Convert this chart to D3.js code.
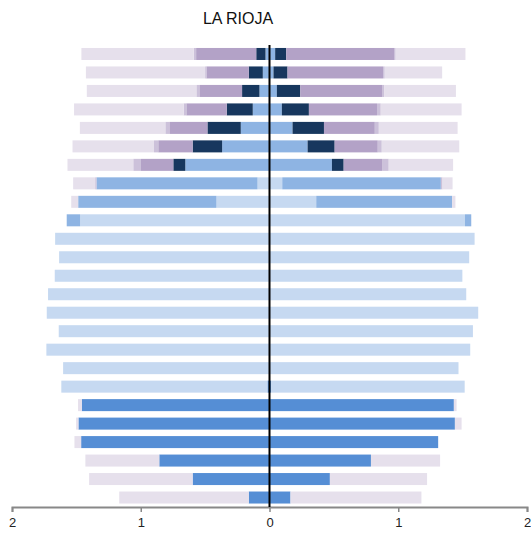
<!DOCTYPE html>
<html>
<head>
<meta charset="utf-8">
<script src="https://cdn.jsdelivr.net/npm/d3@7"></script>
<style>
  body { margin: 0; background: #fff; }
  svg { display: block; font-family: "Liberation Sans", Arial, sans-serif; }
</style>
</head>
<body>
<div id="chart"></div>
<script>
// rows from top to bottom, values per side (left / right)
var rows = d3.range(25, 0, -1).map(function(d){ return "g" + d; });
var keys = ["s1", "s2", "s3", "s4", "s5", "s6", "s7"];
var colors = ["#558ed5", "#c6d9f1", "#8eb4e3", "#17375e", "#b3a2c7", "#ccc1da", "#e6e0ec"];
var ticks = [-2, -1, 0, 1, 2];

var leftS1 = [0,0,0,0,0,0,0,0,0,0,0,0,0,0,0,0,0,0,0.016,1.458,1.484,1.463,0.856,0.597,0.161];
var leftS2 = [0,0,0,0,0,0,0,0.093,0.412,1.471,1.665,1.634,1.668,1.720,1.730,1.637,1.733,1.603,1.601,0,0,0,0,0,0];
var leftS3 = [0.031,0.052,0.078,0.130,0.223,0.368,0.654,1.251,1.074,0.104,0,0,0,0,0,0,0,0,0,0,0,0,0,0,0];
var leftS4 = [0.072,0.109,0.135,0.202,0.259,0.229,0.093,0,0,0,0,0,0,0,0,0,0,0,0,0,0,0,0,0,0];
var leftS5 = [0.467,0.329,0.332,0.314,0.296,0.267,0.251,0,0,0,0,0,0,0,0,0,0,0,0,0,0,0,0,0,0];
var leftS6 = [0.019,0.010,0.023,0.021,0.031,0.033,0.060,0.010,0,0,0,0,0,0,0,0,0,0,0,0,0,0,0,0,0];
var leftS7 = [0.872,0.926,0.851,0.851,0.664,0.633,0.511,0.171,0.054,0,0,0,0,0,0,0,0,0,0,0.029,0.018,0.052,0.574,0.804,1.006];

var rightS1 = [0,0,0,0,0,0,0,0,0,0,0,0,0,0,0,0,0,0,0.012,1.432,1.440,1.310,0.788,0.469,0.163];
var rightS2 = [0,0,0,0,0,0,0,0.099,0.363,1.518,1.593,1.551,1.498,1.528,1.621,1.580,1.559,1.468,1.504,0,0,0,0,0,0];
var rightS3 = [0.044,0.031,0.057,0.096,0.179,0.296,0.485,1.232,1.055,0.049,0,0,0,0,0,0,0,0,0,0,0,0,0,0,0];
var rightS4 = [0.086,0.109,0.182,0.210,0.244,0.210,0.091,0,0,0,0,0,0,0,0,0,0,0,0,0,0,0,0,0,0];
var rightS5 = [0.837,0.742,0.635,0.529,0.395,0.335,0.298,0,0,0,0,0,0,0,0,0,0,0,0,0,0,0,0,0,0];
var rightS6 = [0.013,0.013,0.016,0.029,0.031,0.031,0.052,0.013,0,0,0,0,0,0,0,0,0,0,0,0,0,0,0,0,0];
var rightS7 = [0.542,0.446,0.558,0.628,0.612,0.602,0.500,0.078,0.026,0,0,0,0,0,0,0,0,0,0,0.021,0.052,0,0.537,0.755,1.017];

var width = 531, height = 533;

var buildTable = function(series){
    return rows.map(function(r, i){
        var o = { row: r };
        keys.forEach(function(k, j){ o[k] = series[j][i]; });
        return o;
    });
};

var leftData = buildTable([leftS1, leftS2, leftS3, leftS4, leftS5, leftS6, leftS7]);
var rightData = buildTable([rightS1, rightS2, rightS3, rightS4, rightS5, rightS6, rightS7]);

var svg = d3.select("#chart").append("svg")
    .attr("width", width)
    .attr("height", height);

var x = d3.scaleLinear().domain([-2, 2]).range([12, 527]);
var y = d3.scaleBand().domain(rows).range([41.5, 510]).padding(0.35);
var color = d3.scaleOrdinal().domain(keys).range(colors);

var stack = d3.stack().keys(keys);

// left side grows towards negative values
var drawSide = function(data, sign, cls){
    var g = svg.append("g").attr("class", cls);
    g.selectAll("g")
        .data(stack(data))
        .enter()
        .append("g")
        .attr("fill", function(d){ return color(d.key); })
        .selectAll("rect")
        .data(function(d){ return d.filter(function(p){ return p[1] - p[0] > 0; }); })
        .enter()
        .append("rect")
        .attr("x", function(d){ return sign < 0 ? x(-d[1]) : x(d[0]); })
        .attr("width", function(d){ return x(d[1]) - x(d[0]); })
        .attr("y", function(d){ return y(d.data.row); })
        .attr("height", y.bandwidth());
};

drawSide(leftData, -1, "left");
drawSide(rightData, 1, "right");

// x axis
var axis = svg.append("g")
    .attr("transform", "translate(0,507)")
    .call(d3.axisBottom(x).tickValues(ticks).tickSize(5).tickPadding(6)
        .tickFormat(function(d){ return Math.abs(d); }));
axis.select(".domain").attr("stroke", "#888").attr("stroke-width", 2);
axis.selectAll(".tick line").attr("stroke", "#888").attr("stroke-width", 1.5);
axis.selectAll(".tick text").attr("fill", "#222").style("font-size", "13px");

// center line
svg.append("line")
    .attr("x1", x(0)).attr("x2", x(0))
    .attr("y1", 45).attr("y2", 507)
    .attr("stroke", "#000")
    .attr("stroke-width", 2);

// title
svg.append("text")
    .attr("x", 238)
    .attr("y", 24)
    .attr("text-anchor", "middle")
    .style("font-size", "16px")
    .attr("fill", "#111")
    .text("LA RIOJA");
</script>
</body>
</html>
